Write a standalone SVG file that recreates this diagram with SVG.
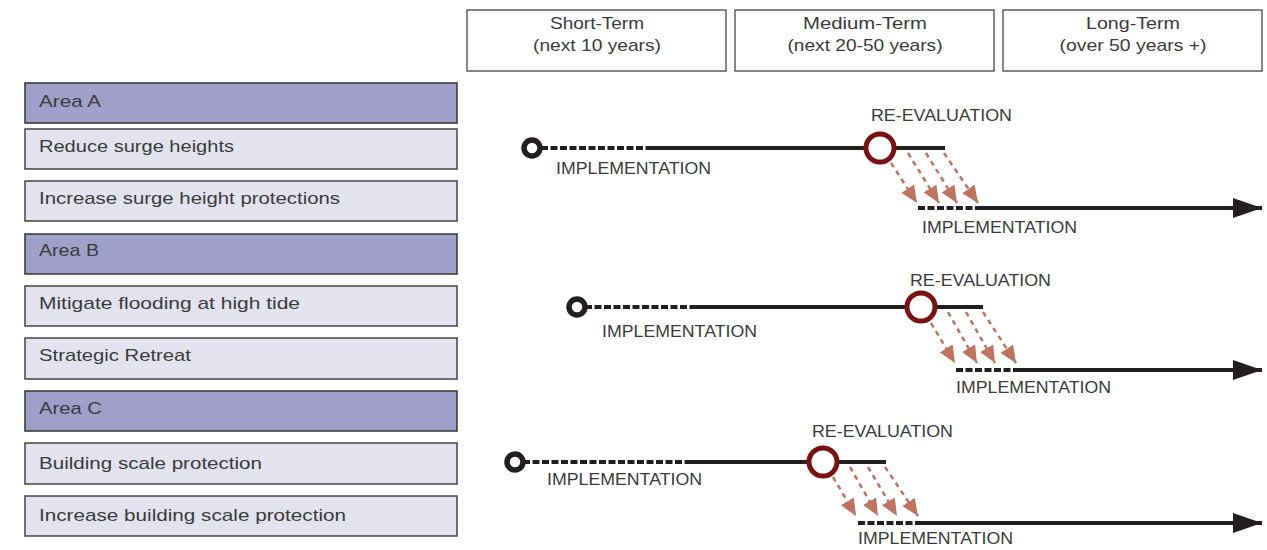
<svg xmlns="http://www.w3.org/2000/svg" width="1267" height="550" viewBox="0 0 1267 550">
<defs>
<style>
.hdr{fill:#fff;stroke:#444;stroke-width:1.3}
.area{fill:#a09fc9;stroke:#333;stroke-width:1.5}
.item{fill:#e3e3ef;stroke:#444;stroke-width:1.5}
.t{font-family:"Liberation Sans",Arial,sans-serif;font-size:17px;fill:#3a3a3a}
.tc{font-family:"Liberation Sans",Arial,sans-serif;font-size:17px;fill:#3a3a3a;text-anchor:middle}
.solid{stroke:#231f20;stroke-width:4;fill:none}
.dash{stroke:#231f20;stroke-width:4;fill:none;stroke-dasharray:7 2.5}
.start{fill:#fff;stroke:#231f20;stroke-width:5.5}
.reval{fill:#fff;stroke:#7a1010;stroke-width:5}
.rarr{stroke:#c0735e;stroke-width:2.5;stroke-dasharray:5 4.5;fill:none;marker-end:url(#ah)}
</style>
<marker id="ah" viewBox="0 0 10 10" refX="10" refY="5" markerWidth="17" markerHeight="15" orient="auto" markerUnits="userSpaceOnUse" preserveAspectRatio="none">
<path d="M0,0 L10,5 L0,10 z" fill="#c0735e"/>
</marker>
<marker id="bh" viewBox="0 0 10 10" refX="10" refY="5" markerWidth="29" markerHeight="20" orient="auto" markerUnits="userSpaceOnUse" preserveAspectRatio="none">
<path d="M0,0 L10,5 L0,10 z" fill="#231f20"/>
</marker>
</defs>

<g id="header-short"><rect class="hdr" x="467" y="10" width="259" height="61"/><text class="tc" x="597" y="29" textLength="94" lengthAdjust="spacingAndGlyphs">Short-Term</text><text class="tc" x="597" y="51" textLength="128" lengthAdjust="spacingAndGlyphs">(next 10 years)</text></g>
<g id="header-medium"><rect class="hdr" x="735" y="10" width="259" height="61"/><text class="tc" x="865" y="29" textLength="124" lengthAdjust="spacingAndGlyphs">Medium-Term</text><text class="tc" x="865" y="51" textLength="155" lengthAdjust="spacingAndGlyphs">(next 20-50 years)</text></g>
<g id="header-long"><rect class="hdr" x="1003" y="10" width="259" height="61"/><text class="tc" x="1133" y="29" textLength="94" lengthAdjust="spacingAndGlyphs">Long-Term</text><text class="tc" x="1133" y="51" textLength="147" lengthAdjust="spacingAndGlyphs">(over 50 years +)</text></g>

<g id="area-a"><rect class="area" x="25" y="83" width="432" height="40"/><text class="t" x="39" y="107" textLength="62" lengthAdjust="spacingAndGlyphs">Area A</text></g>
<g id="reduce-surge"><rect class="item" x="25" y="129" width="432" height="40"/><text class="t" x="39" y="152" textLength="195" lengthAdjust="spacingAndGlyphs">Reduce surge heights</text></g>
<g id="increase-surge"><rect class="item" x="25" y="181" width="432" height="40"/><text class="t" x="39" y="204" textLength="301" lengthAdjust="spacingAndGlyphs">Increase surge height protections</text></g>
<g id="area-b"><rect class="area" x="25" y="234" width="432" height="40"/><text class="t" x="39" y="256" textLength="60" lengthAdjust="spacingAndGlyphs">Area B</text></g>
<g id="mitigate"><rect class="item" x="25" y="286" width="432" height="40"/><text class="t" x="39" y="309" textLength="261" lengthAdjust="spacingAndGlyphs">Mitigate flooding at high tide</text></g>
<g id="retreat"><rect class="item" x="25" y="338" width="432" height="41"/><text class="t" x="39" y="361" textLength="152" lengthAdjust="spacingAndGlyphs">Strategic Retreat</text></g>
<g id="area-c"><rect class="area" x="25" y="391" width="432" height="40"/><text class="t" x="39" y="414" textLength="63" lengthAdjust="spacingAndGlyphs">Area C</text></g>
<g id="building"><rect class="item" x="25" y="443" width="432" height="41"/><text class="t" x="39" y="469" textLength="223" lengthAdjust="spacingAndGlyphs">Building scale protection</text></g>
<g id="increase-building"><rect class="item" x="25" y="496" width="432" height="40"/><text class="t" x="39" y="521" textLength="307" lengthAdjust="spacingAndGlyphs">Increase building scale protection</text></g>

<g id="connectors">
<!-- timeline 1 -->
<line class="dash" x1="541" y1="148" x2="650" y2="148"/>
<line class="solid" x1="650" y1="148" x2="945" y2="148"/>
<path class="rarr" d="M891,163 L917,203"/>
<path class="rarr" d="M908,153 L939,203"/>
<path class="rarr" d="M926,153 L957,203"/>
<path class="rarr" d="M944,153 L978,203"/>
<line class="dash" x1="918" y1="208" x2="980" y2="208"/>
<line class="solid" x1="980" y1="208" x2="1262" y2="208" marker-end="url(#bh)"/>
<!-- timeline 2 -->
<line class="dash" x1="585" y1="307" x2="695" y2="307"/>
<line class="solid" x1="695" y1="307" x2="983" y2="307"/>
<path class="rarr" d="M931,323 L955,363"/>
<path class="rarr" d="M948,312 L977,363"/>
<path class="rarr" d="M966,312 L995,363"/>
<path class="rarr" d="M983,312 L1016,363"/>
<line class="dash" x1="956" y1="370" x2="1019" y2="370"/>
<line class="solid" x1="1019" y1="370" x2="1262" y2="370" marker-end="url(#bh)"/>
<!-- timeline 3 -->
<line class="dash" x1="523" y1="462" x2="690" y2="462"/>
<line class="solid" x1="690" y1="462" x2="886" y2="462"/>
<path class="rarr" d="M833,477 L856,516"/>
<path class="rarr" d="M850,467 L878,516"/>
<path class="rarr" d="M868,467 L897,516"/>
<path class="rarr" d="M885,467 L918,516"/>
<line class="dash" x1="858" y1="523" x2="920" y2="523"/>
<line class="solid" x1="920" y1="523" x2="1262" y2="523" marker-end="url(#bh)"/>
</g>

<g id="timeline-1">
<circle class="start" cx="532" cy="148" r="8"/>
<circle class="reval" cx="880" cy="148" r="14"/>
<text class="t" x="556" y="174" textLength="155" lengthAdjust="spacingAndGlyphs">IMPLEMENTATION</text>
<text class="t" x="871" y="121" textLength="141" lengthAdjust="spacingAndGlyphs">RE-EVALUATION</text>
<text class="t" x="922" y="233" textLength="155" lengthAdjust="spacingAndGlyphs">IMPLEMENTATION</text>
</g>
<g id="timeline-2">
<circle class="start" cx="577" cy="307" r="8"/>
<circle class="reval" cx="921" cy="307" r="14"/>
<text class="t" x="602" y="337" textLength="155" lengthAdjust="spacingAndGlyphs">IMPLEMENTATION</text>
<text class="t" x="910" y="286" textLength="141" lengthAdjust="spacingAndGlyphs">RE-EVALUATION</text>
<text class="t" x="956" y="393" textLength="155" lengthAdjust="spacingAndGlyphs">IMPLEMENTATION</text>
</g>
<g id="timeline-3">
<circle class="start" cx="515" cy="462" r="8"/>
<circle class="reval" cx="823" cy="462" r="14"/>
<text class="t" x="547" y="485" textLength="155" lengthAdjust="spacingAndGlyphs">IMPLEMENTATION</text>
<text class="t" x="812" y="437" textLength="141" lengthAdjust="spacingAndGlyphs">RE-EVALUATION</text>
<text class="t" x="858" y="544" textLength="155" lengthAdjust="spacingAndGlyphs">IMPLEMENTATION</text>
</g>
</svg>
